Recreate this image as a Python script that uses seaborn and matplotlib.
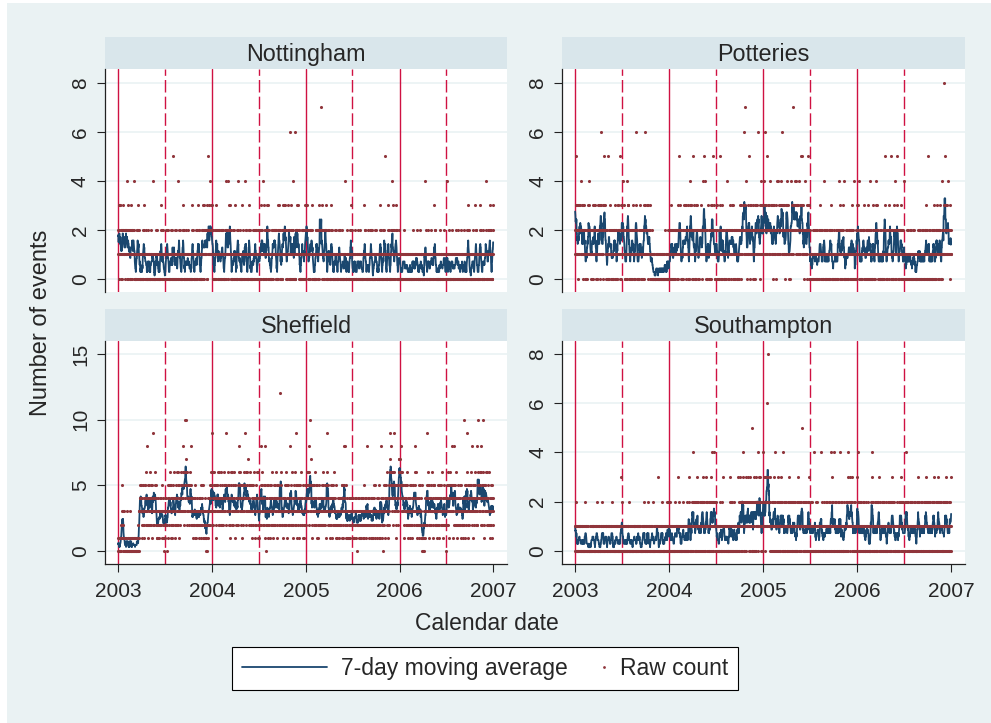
import pandas as pd
import matplotlib.pyplot as plt
import seaborn as sns
from matplotlib.lines import Line2D
from matplotlib.legend_handler import HandlerLine2D
from matplotlib.patches import Rectangle
import matplotlib.dates as mdates

# daily event counts, one string per month (Jan..Dec),
# one hex digit per day (a=10, c=12), grouped by week
nott_2003 = ["2131203 1312021 0221212 3121120 212", "1241021 2031211 0120201 3120212",
             "1041201 0010100 2120312 1021010 010", "0100100 2031211 0110201 0010010 21",
             "0101000 1021010 1040100 0010010 120", "1201001 0100100 1312021 0110201 00",
             "0010010 2120212 1000100 1021010 201", "0105010 1201001 2010110 0141021 201",
             "0100100 1221302 0001010 2010110 10", "1201001 0101000 2031211 0010010 120",
             "0110201 1312021 0100100 2120312 01", "2031211 1221302 0125121 3121422 131"]
nott_2004 = ["1312021 0100100 2120312 1021010 221", "0110201 2021211 0010010 2120242 1",
             "1041021 2312232 0100100 1201001 213", "0100100 2041211 0110201 1000100 31",
             "2010110 1042021 0101000 1221302 010", "0010010 1201001 2120212 0100100 21",
             "1021010 2031211 1204100 1312021 010", "2312232 0110201 1000100 2120212 121",
             "1221202 0010010 3212131 1201001 20", "2031211 2312232 1021010 1312021 260",
             "0120312 1021041 0100600 2212232 11", "1312021 0100100 2120212 0110201 302"]
nott_2005 = ["2312232 1021010 1212021 2031211 010", "0100100 2120212 1201001 3212171",
             "1221302 0110201 2212232 0010010 121", "1201001 2031211 0100100 1021010 21",
             "0010010 1212021 0101000 1201001 010", "1041000 0110201 0010010 2120312 01",
             "0100100 1021010 0001010 1201001 100", "2010110 0010010 1312021 0101000 120",
             "0100100 2120212 1000100 0110201 01", "1201001 0010010 2031211 0100100 211",
             "1021501 0101000 1312021 0010010 20", "4120312 0110201 1221302 0100100 211"]
nott_2006 = ["1100110 0001010 1021010 1010011 100", "0101000 1100110 0010010 1201001",
             "1010011 1201001 0100100 2010110 010", "1000100 0141021 0010010 1201001 01",
             "0110201 1100110 1312021 0010010 100", "0100100 2010110 1010011 1021010 00",
             "1041000 0110201 0100100 1201001 010", "1010011 1021010 2010110 0100100 201",
             "0101000 1201001 0010010 2120312 00", "1000100 0110201 0101000 1312021 010",
             "0010010 2031211 1000100 1201001 11", "1201401 0110201 2120312 0100100 312"]

pott_2003 = ["2153213 1213021 3212232 2141231 201", "2313221 1021010 2120312 1324212",
             "1201102 2131201 3212232 0110201 213", "2131201 2361321 1213021 3252232 12",
             "1021010 0151201 2131201 1201102 021", "2120312 1021010 2313221 1205102 13",
             "1324212 2131201 0110201 2433132 120", "1201102 2120312 1021010 2131261 201",
             "0110201 1213021 1201102 2120312 61", "3212232 1213021 2131201 0110201 100",
             "0100100 0010010 1000100 0101001 00", "1001010 0100100 0201001 0010210 010"]
pott_2004 = ["1021010 2131201 1201102 2120212 101", "2131201 1253221 1021010 2120312 1",
             "1213021 3212232 0110201 2433132 120", "5120312 1021010 2313221 1201102 21",
             "2131201 2212242 1254212 1021010 231", "1201102 2120312 3215221 1213021 01",
             "2131201 0110201 1253021 2120312 120", "1021010 2212421 1201102 2131201 213",
             "2120312 1201102 1212021 0110201 12", "2131201 3212232 2613221 7324212 201",
             "1213521 2120312 3212232 1021010 23", "2313221 1326212 2131201 3242313 121"]
pott_2005 = ["3242313 6212232 2153221 1324212 232", "2131201 3212232 1213021 2422142",
             "3212232 1324212 6313221 2131201 313", "2433132 1201102 2212242 2313721 32",
             "3242313 2433132 1324212 3212532 231", "5131201 2212421 1213021 3252232 01",
             "1021010 0110201 1201102 1021010 201", "0110201 2131201 1021010 1241102 010",
             "1201102 0110201 2120312 1021010 10", "1021010 1201102 0110241 2131201 021",
             "2120312 1041010 0110201 1201102 12", "1201102 2131201 1024010 0110201 312"]
pott_2006 = ["2131241 1021010 1201102 2120312 101", "1201102 2120312 0114201 1021010",
             "2131201 0110241 2313221 1021010 120", "1021010 1201102 2153221 0110201 21",
             "2120312 1251102 1021010 2131241 020", "1213521 0110201 2120312 1201102 10",
             "1041010 0110201 1021010 1201102 010", "0110201 1021010 0100100 1201102 201",
             "1021010 1201102 0110201 2120312 00", "1051102 0110201 1021010 2131201 010",
             "2120312 1201102 2131201 0110241 21", "2131821 5313221 1324212 2120312 121"]

shef_2003 = ["1010100 0101201 2135312 0310101 010", "0100301 0010100 1003010 0100101",
             "0101001 0100101 0102010 0133435 454", "3524153 2342315 4352436 2483124 52",
             "4352436 3524153 3249324 4536345 241", "2312413 3123423 2342315 3142302 31",
             "3241324 2302315 4352436 3524153 241", "4352436 3241324 5463426 3524153 342",
             "4536345 5463826 6354a37 5a63426 45", "4352436 3524853 3241324 2342315 432",
             "3123423 3241324 2342315 3524153 32", "2312413 1021302 3241324 4352436 352"]
shef_2004 = ["9352436 4536345 3524153 5463426 324", "4352436 5324342 4536345 3524953 4",
             "4536345 3241324 5463426 4352436 315", "5324342 4352436 4586345 3524153 42",
             "4536345 5493426 6354437 4352436 352", "3524153 4352436 3241324 5463426 31",
             "3241324 4852436 5324342 3583153 420", "3524153 2342315 4352436 3241324 452",
             "4352436 3524153 5324342 43c6345 23", "3241324 4352436 3524153 5324342 243",
             "4853426 3241324 4352436 3529153 34", "3524153 4352436 2342315 3241324 532"]
shef_2005 = ["4536345 5463426 8354a37 3524153 452", "4352436 3524153 3241324 5324342",
             "4352436 5324342 3524153 4536945 243", "3241324 3524153 4352436 2342315 32",
             "3123423 3241324 2342315 3524153 853", "3824153 2312413 3241324 3123423 24",
             "2312413 3123423 3142302 3241324 231", "3241324 2342315 3123423 3142382 324",
             "3123423 3241324 2312413 3524153 32", "3241324 2342315 3123483 3142302 423",
             "3524153 4352436 3241324 5469748 56", "5463426 4596345 3524153 4352436 677"]
shef_2006 = ["6574856 4536345 3524153 4352436 352", "3241324 3524153 2342315 4352436",
             "8352436 3241324 3524153 2342315 101", "0213102 3241324 3592436 3524153 42",
             "4352436 3524153 5324342 3241324 452", "3524153 4352436 3241324 5324342 30",
             "4352436 3524153 4536345 3584153 452", "4852436 3241324 5324342 3524153 342",
             "3241324 3a24153 4352936 3524153 42", "4536345 3824153 4352436 5324342 823",
             "45a6345 5463826 4352436 5a24153 45", "5463426 4352436 3241324 3524153 432"]

soton_2003 = ["1012010 0100100 1010110 0010010 100", "0101000 1021010 0010010 0000100",
              "0010010 1010110 1000100 0110201 010", "0101000 0010010 1021010 0100100 11",
              "1000100 0110101 0010010 1021010 000", "0100100 1010110 0010010 0101000 31",
              "1021010 0010010 0101000 1010110 020", "0010010 1000100 0110101 0100100 101",
              "1010110 0101000 0010010 1021010 01", "0100100 1021010 1000100 0110101 020",
              "0010010 1010110 0131000 0100100 10", "1021010 0100100 1010110 0201001 201"]
soton_2004 = ["1021010 0110101 1000100 1020110 101", "0113010 1021010 0100100 1201101 0",
              "1010110 0201001 1021310 0110101 120", "4120112 1021010 2031201 1201102 10",
              "1201102 2131201 1021010 1213021 201", "1021010 2120312 0140021 1241102 12",
              "0110101 1000100 1021010 0201001 130", "1010110 0110101 0100100 1203010 021",
              "0201001 1021010 1010110 0130101 20", "1213021 2120342 1021010 2131201 121",
              "2131201 1213021 1025010 2120312 20", "2120312 1241102 2313221 1021010 212"]
soton_2005 = ["4131201 2312231 2613281 2120312 101", "1201102 2120312 0141010 1213021",
              "1021010 2131201 1204102 0110201 121", "0110201 1213021 1021010 1201102 20",
              "1021010 0110201 2131201 1201102 151", "1201102 0110201 1021010 2120312 01",
              "0110201 1021010 1041010 0201001 120", "1010110 0114101 1021010 0110201 001",
              "1201102 0110201 1021010 4120312 01", "0140201 1021010 1201102 0114101 020",
              "1021010 0110201 1201102 2131401 21", "2120312 1213021 0110201 1021010 301"]
soton_2006 = ["1241102 0110201 1021010 1201102 010", "0110201 1021010 1000100 1213024",
              "1021010 1201102 0110201 2120312 010", "0110201 1021010 1201102 0100100 21",
              "1201102 0110201 2131201 1021010 010", "1021010 0110201 1213021 1201102 01",
              "0110201 1241102 1021010 0110201 120", "1021010 1201102 0100100 2120312 011",
              "0110201 1021010 1201102 1213021 10", "1201102 0110201 1021010 2131201 011",
              "1021010 2120312 0110201 1201102 10", "0110201 1213021 1021010 1201102 310"]

panels = {
    'Nottingham': nott_2003 + nott_2004 + nott_2005 + nott_2006,
    'Potteries': pott_2003 + pott_2004 + pott_2005 + pott_2006,
    'Sheffield': shef_2003 + shef_2004 + shef_2005 + shef_2006,
    'Southampton': soton_2003 + soton_2004 + soton_2005 + soton_2006,
}
y_ticks = {'Nottingham': [0, 2, 4, 6, 8], 'Potteries': [0, 2, 4, 6, 8],
           'Sheffield': [0, 5, 10, 15], 'Southampton': [0, 2, 4, 6, 8]}
y_lims = {'Nottingham': (-0.53, 8.56), 'Potteries': (-0.53, 8.56),
          'Sheffield': (-1.01, 15.99), 'Southampton': (-0.54, 8.53)}
years = [2003, 2004, 2005, 2006, 2007]


def to_frame(months):
    rows = []
    for i, s in enumerate(months):
        start = pd.Timestamp(2003 + i // 12, i % 12 + 1, 1)
        vals = [int(c, 16) for c in s.replace(' ', '')]
        for d, v in zip(pd.date_range(start, periods=len(vals), freq='D'), vals):
            rows.append((d, v))
    df = pd.DataFrame(rows, columns=['date', 'count'])
    df['ma'] = df['count'].rolling(7, center=True, min_periods=1).mean()
    return df


sns.set_style('white')
plt.rcParams['font.family'] = ['Liberation Sans', 'DejaVu Sans']

navy = '#1a476f'
maroon = '#90353b'
red = '#cf1142'
bg = '#eaf2f3'

W, H = 991, 723
fig = plt.figure(figsize=(W / 100, H / 100), dpi=100, facecolor='white')
fig.add_artist(Rectangle((7 / W, 0), 1, 1 - 3 / H, transform=fig.transFigure,
                         facecolor=bg, edgecolor='none', zorder=-10))

cells = {'Nottingham': (105, 69, 507, 292), 'Potteries': (562, 69, 965, 292),
         'Sheffield': (105, 341, 507, 564), 'Southampton': (562, 341, 965, 564)}

for name, (x0, y0, x1, y1) in cells.items():
    df = to_frame(panels[name])
    bottom_row = y0 > 300

    # strip with the panel title
    sax = fig.add_axes([x0 / W, 1 - y0 / H, (x1 - x0) / W, 32 / H])
    sax.set_facecolor('#d9e6eb')
    sax.set_xticks([])
    sax.set_yticks([])
    for sp in sax.spines.values():
        sp.set_visible(False)
    sax.text(0.5, 0.45, name, ha='center', va='center', fontsize=16.8)

    ax = fig.add_axes([x0 / W, 1 - y1 / H, (x1 - x0) / W, (y1 - y0) / H])
    ax.set_facecolor('white')
    for yr in years[:-1]:
        ax.axvline(pd.Timestamp(yr, 1, 1), color=red, lw=1.0, zorder=1)
        ax.axvline(pd.Timestamp(yr, 7, 1), color=red, lw=1.0, ls=(0, (9, 3)), zorder=1)
    sns.lineplot(data=df, x='date', y='ma', ax=ax, color=navy, lw=1.3,
                 estimator=None, legend=False, zorder=3)
    sns.scatterplot(data=df, x='date', y='count', ax=ax, color=maroon, s=5,
                    linewidth=0, legend=False, zorder=4)

    ax.set_xlim(pd.Timestamp('2002-11-11'), pd.Timestamp('2007-02-23'))
    ax.set_ylim(*y_lims[name])
    ax.set_yticks(y_ticks[name])
    ax.yaxis.grid(True, color=bg, lw=1.2)
    ax.xaxis.grid(False)
    ax.set_axisbelow(True)
    ax.set_xlabel('')
    ax.set_ylabel('')
    ax.spines['top'].set_visible(False)
    ax.spines['right'].set_visible(False)
    ax.spines['left'].set_color('#222222')
    ax.spines['left'].set_linewidth(0.9)
    ax.tick_params(axis='y', direction='out', length=5.8, width=0.8, color='#222222',
                   labelsize=15, pad=5, labelrotation=90, left=True)
    for lab in ax.get_yticklabels():
        lab.set_va('center')
    if bottom_row:
        ax.set_xticks([pd.Timestamp(y, 1, 1) for y in years])
        ax.xaxis.set_major_formatter(mdates.DateFormatter('%Y'))
        ax.spines['bottom'].set_color('#222222')
        ax.spines['bottom'].set_linewidth(0.9)
        ax.tick_params(axis='x', direction='out', length=5.8, width=0.8, color='#222222',
                       labelsize=15, pad=7, bottom=True)
    else:
        ax.set_xticks([])
        ax.spines['bottom'].set_visible(False)

fig.text(41 / W, 1 - 323 / H, 'Number of events', rotation=90, ha='center', va='center',
         fontsize=17)
fig.text(487 / W, 1 - 623 / H, 'Calendar date', ha='center', va='center', fontsize=16.5)

h_line = Line2D([], [], color=navy, lw=1.3)
h_dot = Line2D([], [], ls='none', marker='o', ms=2, mew=0, color=maroon)
leg = fig.legend([h_line, h_dot], ['7-day moving average', 'Raw count'], loc='center',
                 bbox_to_anchor=(485 / W, 1 - 668.5 / H), ncol=2, fontsize=16.5,
                 frameon=True, fancybox=False, edgecolor='black', framealpha=1,
                 borderpad=0.44, handlelength=3.71, handletextpad=0.61,
                 columnspacing=-2.05, handler_map={h_dot: HandlerLine2D(xpad=3.54)})
leg.get_frame().set_linewidth(0.8)

fig.savefig('out.png', dpi=100)
